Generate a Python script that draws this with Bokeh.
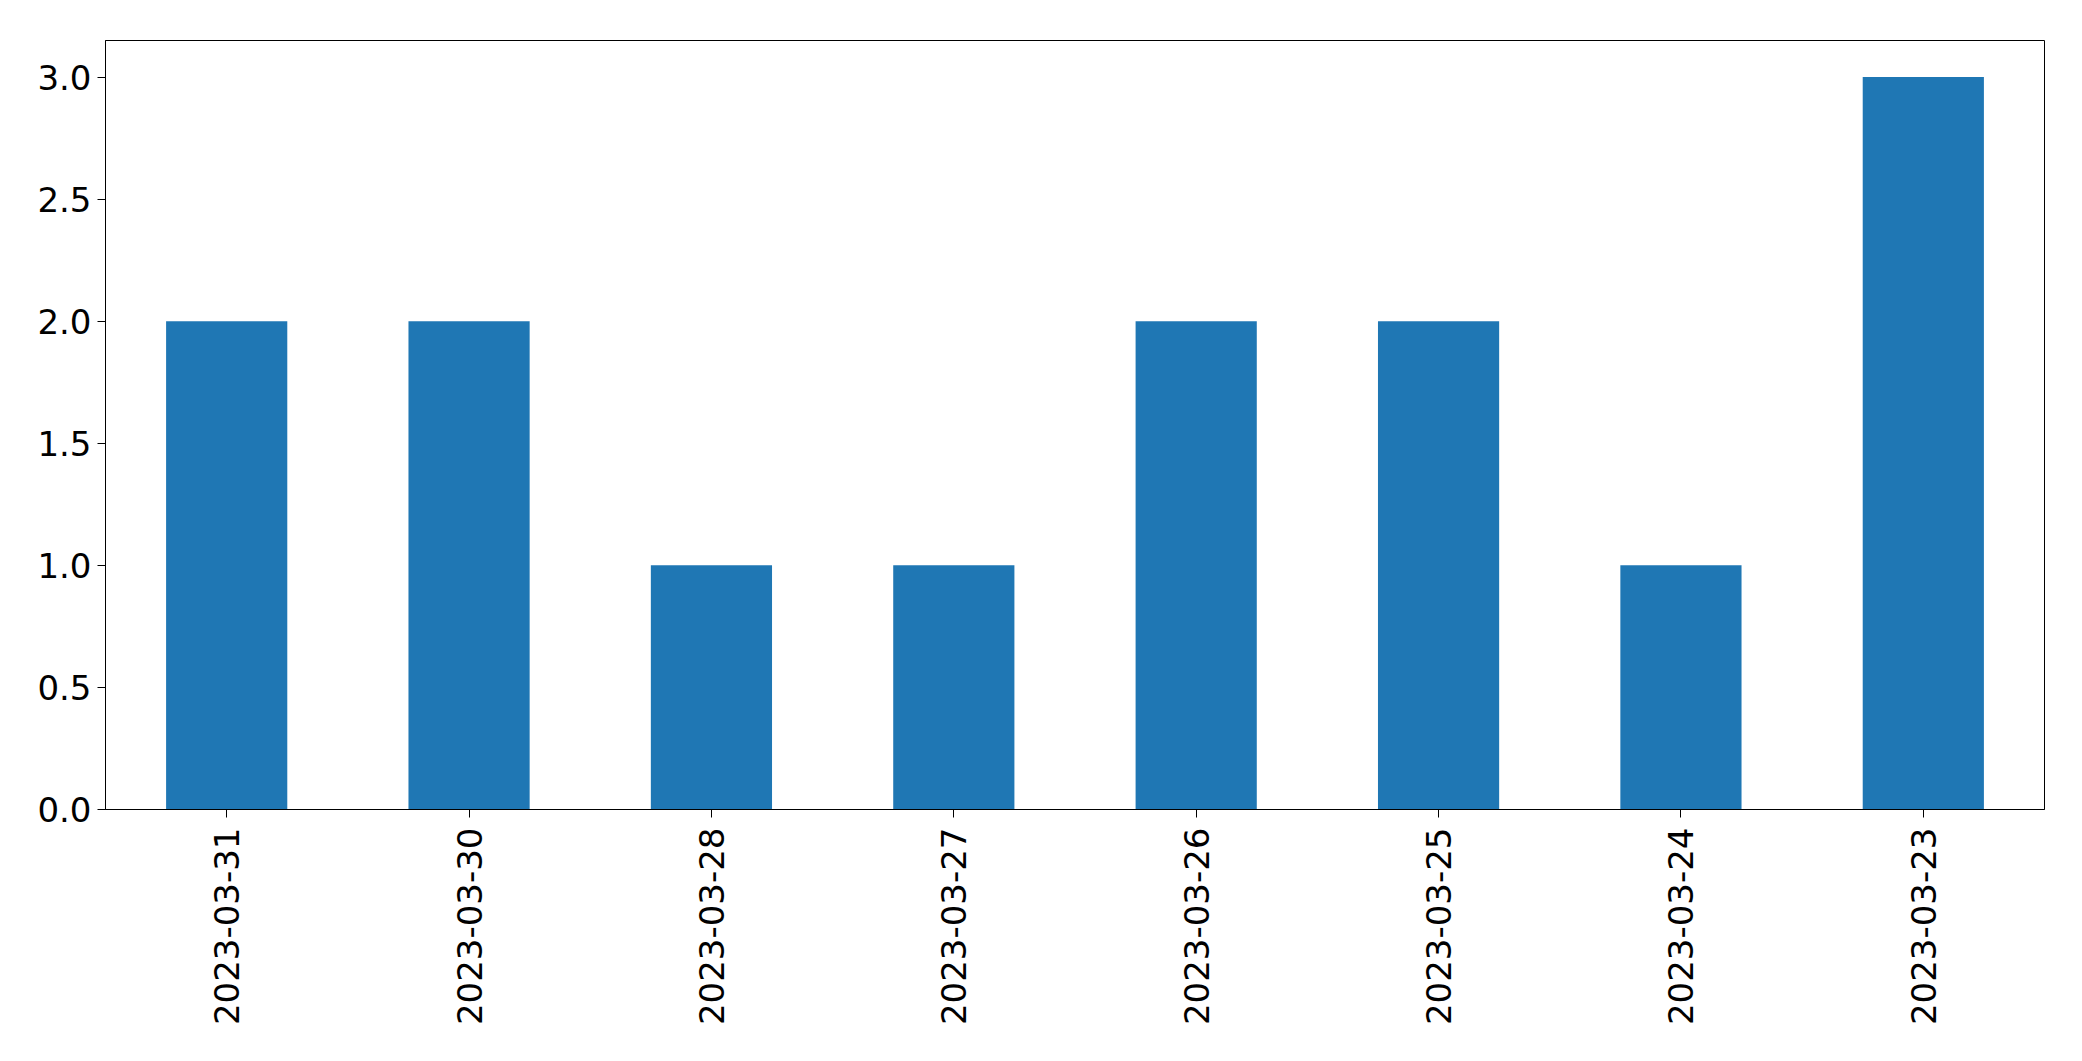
import math
from bokeh.plotting import figure
from bokeh.models import FactorRange, Range1d, FixedTicker, NumeralTickFormatter
from bokeh.embed import file_html
from bokeh.resources import INLINE

dates = ["2023-03-31", "2023-03-30", "2023-03-28", "2023-03-27",
         "2023-03-26", "2023-03-25", "2023-03-24", "2023-03-23"]
counts = [2, 2, 1, 1, 2, 2, 1, 3]
y_ticks = [0.0, 0.5, 1.0, 1.5, 2.0, 2.5, 3.0]

p = figure(width=2074, height=1053, output_backend="svg", toolbar_location=None,
           x_range=FactorRange(factors=dates, range_padding=0),
           y_range=Range1d(0, 3.15))
p.min_border_left = 105
p.min_border_right = 30
p.min_border_top = 40
p.min_border_bottom = 244
p.background_fill_color = "white"
p.border_fill_color = "white"
p.outline_line_color = "black"
p.outline_line_width = 1
p.grid.visible = False

p.vbar(x=dates, top=counts, width=0.5, fill_color="#1f77b4", line_color=None)

for ax in (p.xaxis[0], p.yaxis[0]):
    ax.axis_line_color = "black"
    ax.major_tick_line_color = "black"
    ax.major_tick_out = 8
    ax.major_tick_in = 0
    ax.minor_tick_line_color = None
    ax.major_label_text_font = "DejaVu Sans"
    ax.major_label_text_font_size = "34px"
    ax.major_label_text_color = "black"

p.xaxis.major_label_orientation = math.pi / 2
p.xaxis.major_label_standoff = 10
p.yaxis.major_label_standoff = 6
p.yaxis.ticker = FixedTicker(ticks=y_ticks)
p.yaxis.formatter = NumeralTickFormatter(format="0.0")

open("out.html", "w").write(file_html(p, INLINE))
